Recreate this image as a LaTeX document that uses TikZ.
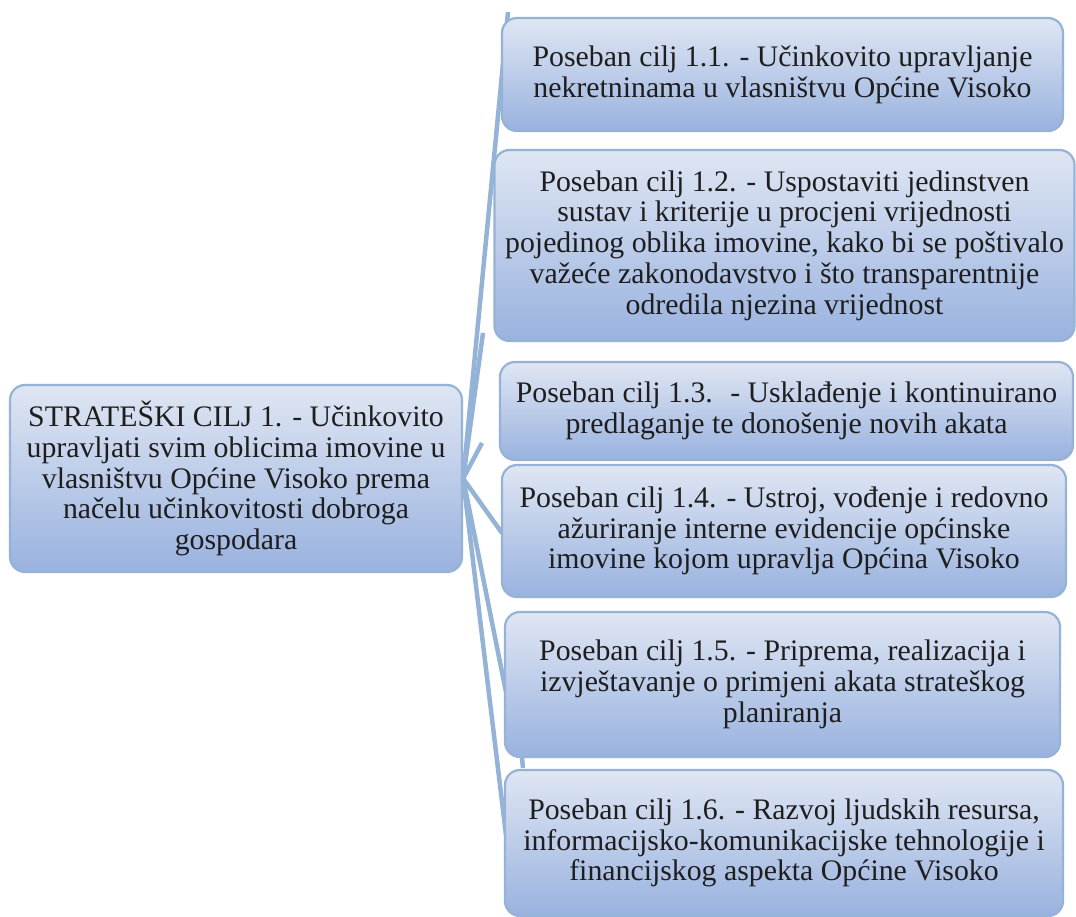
\documentclass[tikz,border=0pt]{standalone}
\usepackage{fontspec}
\setmainfont{Liberation Serif}
\definecolor{edgeblue}{RGB}{149,179,215}
\definecolor{topblue}{RGB}{223,230,243}
\definecolor{botblue}{RGB}{153,178,223}
\definecolor{txt}{RGB}{30,30,30}
\tikzset{
  goalbox/.style={draw=edgeblue, line width=2.2pt, rounded corners=15pt,
    top color=topblue, bottom color=botblue, align=center, text=txt,
    inner sep=0pt, font=\fontsize{29.8}{30.7}\selectfont},
  conn/.style={draw=edgeblue, line width=4.5pt}
}
\begin{document}
\begin{tikzpicture}[x=1pt,y=-1pt]
\useasboundingbox (0,0) rectangle (1076,917);
\fill[white] (0,0) rectangle (1076,917);
% parent
\node[goalbox, minimum width=452pt, minimum height=187pt] (p) at (236,478.5)
  {STRATEŠKI CILJ 1. - Učinkovito\\ upravljati svim oblicima imovine u\\ vlasništvu Općine Visoko prema\\ načelu učinkovitosti dobroga\\ gospodara};
% connector ends
\coordinate (e1) at (508,12);
\coordinate (e2) at (483,333);
\coordinate (e3) at (482,443);
\coordinate (e4) at (502,533);
\coordinate (e5) at (506,692);
\coordinate (e6) at (506,835);
\coordinate (s1) at (521,748);
\coordinate (s2) at (523,768);
\draw[conn] (p.east) -- (e1);
\draw[conn] (p.east) -- (e2);
\draw[conn] (p.east) -- (e3);
\draw[conn] (p.east) -- (e4);
\draw[conn] (p.east) -- (e5);
\draw[conn] (p.east) -- (e6);
\draw[conn] (s1) -- (s2);
% children
\node[goalbox, minimum width=561pt, minimum height=113pt] (c1) at (782.5,74.5)
  {Poseban cilj 1.1. - Učinkovito upravljanje\\ nekretninama u vlasništvu Općine Visoko};
\node[goalbox, minimum width=580pt, minimum height=191pt] (c2) at (784.5,245.5)
  {Poseban cilj 1.2. - Uspostaviti jedinstven\\ sustav i kriterije u procjeni vrijednosti\\ pojedinog oblika imovine, kako bi se poštivalo\\ važeće zakonodavstvo i što transparentnije\\ odredila njezina vrijednost};
\node[goalbox, minimum width=573pt, minimum height=98pt] (c3) at (786.5,411)
  {Poseban cilj 1.3. \ - Usklađenje i kontinuirano\\ predlaganje te donošenje novih akata};
\node[goalbox, minimum width=564pt, minimum height=132pt] (c4) at (784,531)
  {Poseban cilj 1.4. - Ustroj, vođenje i redovno\\ ažuriranje interne evidencije općinske\\ imovine kojom upravlja Općina Visoko};
\node[goalbox, minimum width=555pt, minimum height=145pt] (c5) at (782.5,684.5)
  {Poseban cilj 1.5. - Priprema, realizacija i\\ izvještavanje o primjeni akata strateškog\\ planiranja};
\node[goalbox, minimum width=558pt, minimum height=146pt] (c6) at (784,843)
  {Poseban cilj 1.6. - Razvoj ljudskih resursa,\\ informacijsko-komunikacijske tehnologije i\\ financijskog aspekta Općine Visoko};
\end{tikzpicture}
\end{document}
